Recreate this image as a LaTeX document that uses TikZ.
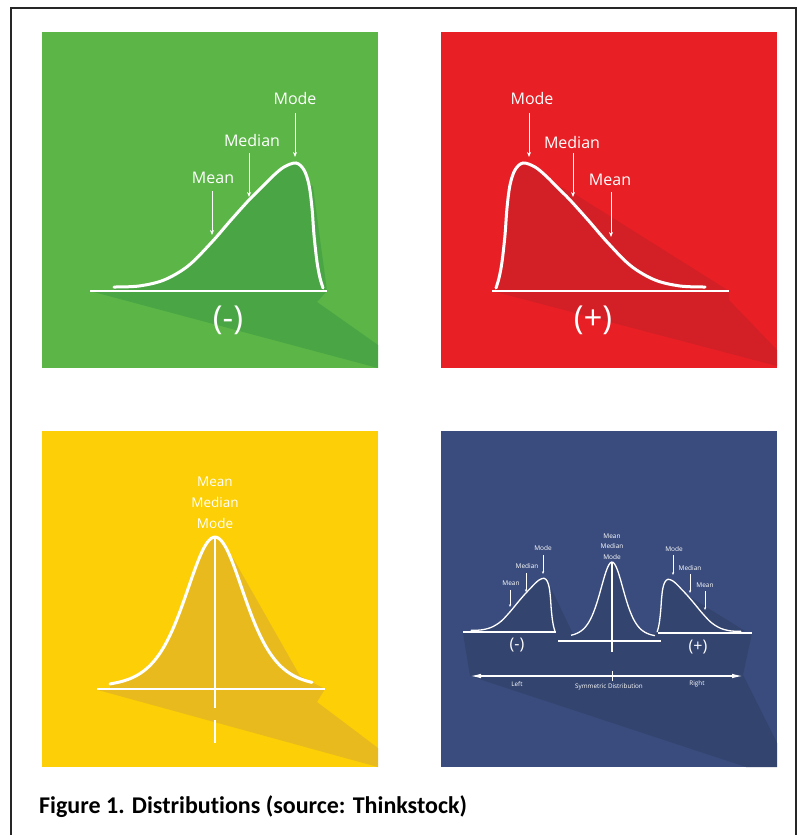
\documentclass[tikz,border=0pt]{standalone}
\usepackage{fontspec}
\setmainfont{Open Sans}
\newfontfamily\capfont[Ligatures=NoCommon]{Carlito}
\usetikzlibrary{arrows.meta}
\definecolor{gbg}{HTML}{5CB547}
\definecolor{gdark}{HTML}{4AA545}
\definecolor{rbg}{HTML}{E81F25}
\definecolor{rdark}{HTML}{D31F26}
\definecolor{ybg}{HTML}{FCCF06}
\definecolor{ydark}{HTML}{E8BA1E}
\definecolor{bbg}{HTML}{3A4C7D}
\definecolor{bdark}{HTML}{33446F}
\tikzset{
  skew/.pic={
    \fill[#1] plot[smooth,tension=0.55] coordinates {(-27,-3) (-24,-13) (-21,-29) (-18,-56) (-16,-83) (-13,-106) (-8,-121) (0,-128) (12,-124) (23,-115) (35,-103) (47,-91) (65,-71) (85,-48) (108,-25) (132,-11) (157,-5) (182,-4)} -- (182,0) -- (-27,0) -- cycle;
    \draw[white,line cap=round] plot[smooth,tension=0.55] coordinates {(-27,-3) (-24,-13) (-21,-29) (-18,-56) (-16,-83) (-13,-106) (-8,-121) (0,-128) (12,-124) (23,-115) (35,-103) (47,-91) (65,-71) (85,-48) (108,-25) (132,-11) (157,-5) (182,-4)};
  },
  lbl/.style={text=white,inner sep=0pt,font=\fontsize{16}{16}\selectfont},
  ylbl/.style={text=white,inner sep=0pt,font=\fontsize{13.5}{13.5}\selectfont},
  slbl/.style={text=white,inner sep=0pt,font=\fontsize{6.5}{6.5}\selectfont},
  tlbl/.style={text=white,inner sep=0pt,font=\fontsize{6.3}{6.3}\selectfont},
  sign/.style={text=white,inner sep=0pt,font=\fontsize{33}{33}\selectfont},
  ssign/.style={text=white,inner sep=0pt,font=\fontsize{16}{16}\selectfont},
  arr/.style={white,line width=0.9pt,-{Stealth[length=5pt,width=4pt]}},
  sarr/.style={white,line width=0.5pt,-{Stealth[length=2.8pt,width=2.2pt]}},
  axisline/.style={white,line width=2.5pt},
  saxis/.style={white,line width=1.4pt},
}
\begin{document}
\begin{tikzpicture}[x=1pt,y=-1pt]
\useasboundingbox (0,0) rectangle (799,835);
\fill[white] (0,0) rectangle (799,835);
% outer frame
\draw[line width=2pt,black!85] (10.5,840) -- (10.5,8) -- (796,8) -- (796,840);

% ===== green panel =====
\fill[gbg] (42,32) rectangle (378,368);
\fill[gdark] (296,170) -- (313,187) -- (327,291) -- (317,302) -- (378,345) -- (378,368) -- (90,291) -- (296,291) -- cycle;
\pic[xscale=-1,line width=3pt] at (296,291) {skew=gdark};
\draw[axisline] (90,291) -- (327,291);
\node[lbl] (gmode) at (295,98) {Mode};
\node[lbl] (gmedian) at (252,140) {Median};
\node[lbl] (gmean) at (213,178) {Mean};
\coordinate (gmodeA) at (295,113); \coordinate (gmodeB) at (295,157);
\coordinate (gmedA) at (249,153); \coordinate (gmedB) at (249,197);
\coordinate (gmeanA) at (212,191); \coordinate (gmeanB) at (212,235);
\draw[arr] (gmodeA) -- (gmodeB);
\draw[arr] (gmedA) -- (gmedB);
\draw[arr] (gmeanA) -- (gmeanB);
\node[sign] (gsign) at (228,320) {(-)};

% ===== red panel =====
\fill[rbg] (441,32) rectangle (777,368);
\fill[rdark] (523,170) -- (573,193) -- (729,291) -- (729,300) -- (777,350) -- (777,366) -- (492,291) -- (523,291) -- cycle;
\pic[line width=3pt] at (523,291) {skew=rdark};
\draw[axisline] (492,291) -- (729,291);
\node[lbl] (rmode) at (532,98) {Mode};
\node[lbl] (rmedian) at (572,142) {Median};
\node[lbl] (rmean) at (610,180) {Mean};
\coordinate (rmodeA) at (529,113); \coordinate (rmodeB) at (529,157);
\coordinate (rmedA) at (573,153); \coordinate (rmedB) at (573,197);
\coordinate (rmeanA) at (611,192); \coordinate (rmeanB) at (611,237);
\draw[arr] (rmodeA) -- (rmodeB);
\draw[arr] (rmedA) -- (rmedB);
\draw[arr] (rmeanA) -- (rmeanB);
\node[sign] (rsign) at (593,320) {(+)};

% ===== yellow panel =====
\fill[ybg] (42,431) rectangle (378,767);
\fill[ydark] (215,545) -- (233,558) -- (300,676) -- (325,689) -- (317,702) -- (378,748) -- (378,767) -- (98,690) -- (215,690) -- cycle;
\fill[ydark] plot[domain=-105:97,samples=101,smooth] ({215+\x},{687-150/(cosh((\x)/40)^2)}) -- (312,689) -- (110,689) -- cycle;
\draw[white,line width=3pt,line cap=round] plot[domain=-105:97,samples=101,smooth] ({215+\x},{687-150/(cosh((\x)/40)^2)});
\draw[axisline] (97,689) -- (325,689);
\draw[axisline] (215,537) -- (215,708);
\draw[axisline] (215,720) -- (215,743);
\node[ylbl] (ymean) at (215,482) {Mean};
\node[ylbl] (ymedian) at (215,502) {Median};
\node[ylbl] (ymode) at (215,523) {Mode};

% ===== blue panel =====
\fill[bbg] (441,431) rectangle (777,767);
\fill[bdark] (463,633) -- (752,633) -- (743,675) -- (777,743) -- (777,767) -- (746,767) -- (470,676) -- cycle;
\fill[bdark] (549,584) -- (573,634) -- (553,634) -- cycle;
\fill[bdark] (690,597) -- (745,631) -- (690,631) -- cycle;
\pic[xscale=-0.4,yscale=0.42,line width=1.3pt] at (544,632) {skew=bdark};
\pic[xscale=0.4,yscale=0.42,line width=1.3pt] at (668,633) {skew=bdark};
\fill[bdark] plot[domain=-41:43,samples=61,smooth] ({612+\x},{637-75/(cosh((\x)/16)^2)}) -- (655,641) -- (571,641) -- cycle;
\draw[white,line width=1.3pt] plot[domain=-41:43,samples=61,smooth] ({612+\x},{637-75/(cosh((\x)/16)^2)});
\draw[saxis] (463,632) -- (556,632);
\draw[saxis] (558,641) -- (661,641);
\draw[saxis] (658,633) -- (752,633);
\draw[white,line width=1.1pt] (612,563) -- (612,652);
% left mini
\node[slbl] (blmode) at (543,548) {Mode};
\node[slbl] (blmedian) at (527,566) {Median};
\node[slbl] (blmean) at (511,583) {Mean};
\coordinate (blmodeA) at (543,555); \coordinate (blmodeB) at (543,574);
\coordinate (blmedA) at (526,573); \coordinate (blmedB) at (526,592);
\coordinate (blmeanA) at (510,590); \coordinate (blmeanB) at (510,607);
\draw[sarr] (blmodeA) -- (blmodeB);
\draw[sarr] (blmedA) -- (blmedB);
\draw[sarr] (blmeanA) -- (blmeanB);
\node[ssign] (blsign) at (517,645) {(-)};
% centre mini
\node[slbl] (bcmean) at (612,536) {Mean};
\node[slbl] (bcmedian) at (612,546) {Median};
\node[slbl] (bcmode) at (612,557) {Mode};
% right mini
\node[slbl] (brmode) at (674,549) {Mode};
\node[slbl] (brmedian) at (690,568) {Median};
\node[slbl] (brmean) at (705,585) {Mean};
\coordinate (brmodeA) at (673,555); \coordinate (brmodeB) at (673,575);
\coordinate (brmedA) at (690,574); \coordinate (brmedB) at (690,593);
\coordinate (brmeanA) at (705,591); \coordinate (brmeanB) at (705,610);
\draw[sarr] (brmodeA) -- (brmodeB);
\draw[sarr] (brmedA) -- (brmedB);
\draw[sarr] (brmeanA) -- (brmeanB);
\node[ssign] (brsign) at (698,647) {(+)};
% bottom axis
\coordinate (axL) at (470,676); \coordinate (axR) at (743,676);
\draw[white,line width=1.3pt,{Latex[length=11pt,width=4.5pt]}-{Latex[length=11pt,width=4.5pt]}] (axL) -- (axR);
\coordinate (tickA) at (612,671); \coordinate (tickB) at (612,681);
\draw[white,line width=0.8pt] (tickA) -- (tickB);
\node[tlbl] (bleft) at (517,684) {Left};
\node[tlbl] (bsym) at (609,687) {Symmetric Distribution};
\node[tlbl] (bright) at (697,684) {Right};

% caption
\node[anchor=base west,inner sep=0pt,font=\capfont\bfseries\fontsize{24}{28}\selectfont] (cap) at (39,813) {Figure 1. Distributions (source: Thinkstock)};
\end{tikzpicture}
\end{document}
